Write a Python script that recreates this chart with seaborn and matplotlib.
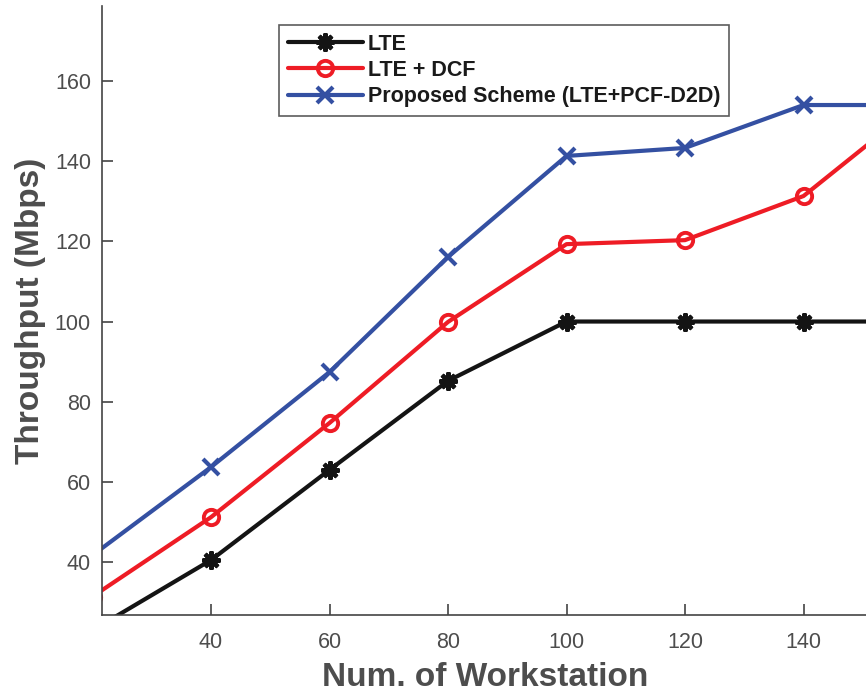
import matplotlib
matplotlib.use("Agg")
import matplotlib.pyplot as plt
import seaborn as sns
import pandas as pd

workstations = [20, 40, 60, 80, 100, 120, 140, 160]
lte = [23.0, 40.5, 63.0, 85.2, 100.0, 100.0, 100.0, 100.0]
lte_dcf = [31.4, 51.2, 74.7, 99.9, 119.3, 120.3, 131.3, 155.0]
proposed = [41.7, 63.7, 87.4, 116.1, 141.3, 143.3, 154.0, 154.0]
series_names = ["LTE", "LTE + DCF", "Proposed Scheme (LTE+PCF-D2D)"]
x_ticks = [40, 60, 80, 100, 120, 140]
y_ticks = [40, 60, 80, 100, 120, 140, 160]

rows = []
for name, vals in zip(series_names, [lte, lte_dcf, proposed]):
    for x, v in zip(workstations, vals):
        rows.append({"Workstations": x, "Throughput": v, "Series": name})
df = pd.DataFrame(rows)

sns.set_style("white")
plt.rcParams["font.family"] = ["Liberation Sans", "DejaVu Sans"]

W, H = 866, 698
fig = plt.figure(figsize=(W / 100, H / 100), dpi=100)
left_px, right_px, top_px, bottom_px = 102, 868, 6, 615
ax = fig.add_axes([left_px / W, 1 - bottom_px / H, (right_px - left_px) / W, (bottom_px - top_px) / H])

palette = {series_names[0]: "#141414", series_names[1]: "#ee1c25", series_names[2]: "#3450a2"}

for name in series_names:
    sub = df[df["Series"] == name]
    if name == series_names[0]:
        mk = (8, 2, 0)
        kw = dict(markersize=13, markeredgewidth=3)
    elif name == series_names[1]:
        mk = "o"
        kw = dict(markersize=11, markeredgewidth=2.8, markerfacecolor="none")
    else:
        mk = "x"
        kw = dict(markersize=12, markeredgewidth=3)
    sns.lineplot(data=sub, x="Workstations", y="Throughput", color=palette[name],
                 marker=mk, linewidth=3, markeredgecolor=palette[name],
                 label=name, ax=ax, **kw)

ax.set_xlim(21.6, 40 + (right_px - 211) / 5.925)
ax.set_ylim(26.8, 178.7)
ax.set_xticks(x_ticks)
ax.set_yticks(y_ticks)
ax.tick_params(bottom=True, left=True, direction="in", length=8, width=1.2, colors="#444444",
               labelsize=15.5, labelcolor="#4d4d4d")
ax.tick_params(axis="x", pad=12)
ax.tick_params(axis="y", pad=8)
for s in ["top", "right"]:
    ax.spines[s].set_visible(False)
for s in ["left", "bottom"]:
    ax.spines[s].set_color("#444444")
    ax.spines[s].set_linewidth(1.2)

ax.set_xlabel("Num. of Workstation", fontsize=24, fontweight="bold", color="#4d4d4d", labelpad=7)
ax.set_ylabel("Throughput (Mbps)", fontsize=24, fontweight="bold", color="#4d4d4d", labelpad=6)

leg = ax.legend(loc="upper left",
                bbox_to_anchor=((279 - left_px) / (right_px - left_px), 1 - (25 - top_px) / (bottom_px - top_px)),
                frameon=True, fancybox=False, fontsize=15.5, handlelength=3.5, handletextpad=0.23,
                borderpad=0.4, labelspacing=0.25, borderaxespad=0)
leg.get_frame().set_edgecolor("#333333")
leg.get_frame().set_linewidth(1.2)
for t in leg.get_texts():
    t.set_fontweight("bold")
    t.set_color("#1a1a1a")

fig.savefig("out.png", dpi=100)
